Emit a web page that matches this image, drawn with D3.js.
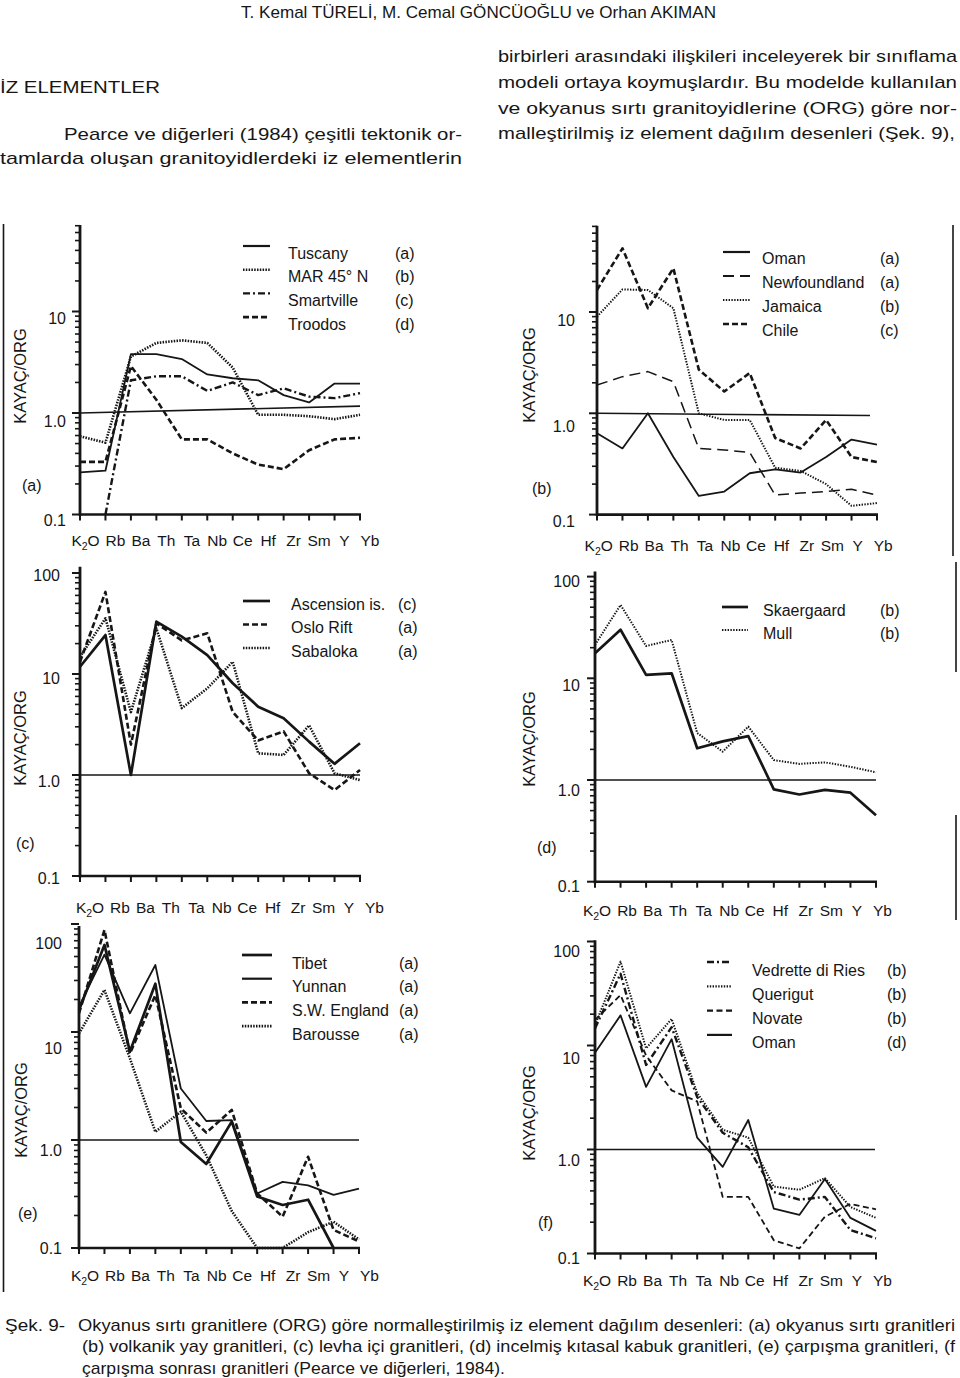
<!DOCTYPE html>
<html><head><meta charset="utf-8">
<script src="https://cdn.jsdelivr.net/npm/d3@7"></script>
<style>body{margin:0;background:#fff}svg{display:block}</style>
</head><body>
<script>
// ---------- DATA ----------
const elements = ["K2O","Rb","Ba","Th","Ta","Nb","Ce","Hf","Zr","Sm","Y","Yb"];
const yTickValues = [0.1, 1, 10, 100];
const yTickLabels = ["0.1", "1.0", "10", "100"];

// (a) okyanus sırtı granitleri
const namesA = ["Tuscany", "MAR 45° N", "Smartville", "Troodos"];
const codesA = ["(a)", "(b)", "(c)", "(d)"];
const tuscany    = [0.26, 0.27, 3.8, 3.8, 3.4, 2.4, 2.2, 2.1, 1.5, 1.27, 1.95, 1.95];
const mar45N     = [0.59, 0.51, 3.6, 4.9, 5.2, 4.9, 2.8, 0.96, 0.96, 0.93, 0.87, 0.96];
const smartville = [null, 0.1, 2.1, 2.3, 2.3, 1.65, 2.0, 1.5, 1.75, 1.45, 1.4, 1.57];
const troodos    = [0.33, 0.33, 2.9, 1.35, 0.55, 0.55, 0.4, 0.31, 0.28, 0.43, 0.55, 0.57];
const orgLineA   = [1.0, 1.17];

// (b) volkanik yay granitleri
const namesB = ["Oman", "Newfoundland", "Jamaica", "Chile"];
const codesB = ["(a)", "(a)", "(b)", "(c)"];
const omanB        = [0.635, 0.45, 1.0, 0.37, 0.153, 0.169, 0.256, 0.28, 0.26, 0.37, 0.55, 0.49];
const newfoundland = [1.9, 2.3, 2.58, 2.05, 0.45, 0.435, 0.41, 0.156, 0.163, 0.169, 0.178, 0.156];
const jamaica      = [9.0, 16.7, 16.5, 10.9, 1.0, 0.86, 0.86, 0.29, 0.27, 0.2, 0.122, 0.13];
const chile        = [16.5, 42.5, 10.9, 27, 2.7, 1.64, 2.5, 0.57, 0.45, 0.86, 0.37, 0.33];
const orgLineB     = [1.0, 0.95];

// (c) levha içi granitleri
const namesC = ["Ascension is.", "Oslo Rift", "Sabaloka"];
const codesC = ["(c)", "(a)", "(a)"];
const ascension = [11.8, 24.3, 1.0, 33, 23.4, 15.4, 8.1, 4.75, 3.64, 2.14, 1.29, 2.06];
const osloRift  = [13.2, 65, 2.0, 31.8, 21.5, 25.3, 4.2, 2.2, 2.7, 1.04, 0.71, 1.12];
const sabaloka  = [14.8, 35.6, 4.2, 28.3, 4.6, 7.2, 13.2, 1.64, 1.58, 3.1, 1.04, 0.89];
const orgLineC  = [1.0, 1.0];

// (d) incelmiş kıtasal kabuk granitleri
const namesD = ["Skaergaard", "Mull"];
const codesD = ["(b)", "(b)"];
const skaergaard = [17.6, 30, 10.8, 11.2, 2.05, 2.4, 2.7, 0.81, 0.72, 0.8, 0.75, 0.45];
const mull       = [21.3, 52.6, 20.8, 23.8, 2.9, 1.9, 3.35, 1.57, 1.44, 1.49, 1.35, 1.19];
const orgLineD   = [1.0, 1.0];

// (e) çarpışma granitleri
const namesE = ["Tibet", "Yunnan", "S.W. England", "Barousse"];
const codesE = ["(a)", "(a)", "(a)", "(a)"];
const tibet     = [16, 64, 6.6, 28, 0.96, 0.6, 1.48, 0.3, 0.25, 0.28, 0.1, null];
const yunnan    = [17.2, 52, 14.9, 41.7, 3.0, 1.5, 1.53, 0.32, 0.41, 0.38, 0.31, 0.355];
const swEngland = [14.9, 88, 6.3, 22, 1.96, 1.17, 1.9, 0.32, 0.195, 0.7, 0.147, 0.115];
const barousse  = [9.7, 24.5, 5.7, 1.19, 1.83, 0.72, 0.22, 0.1, 0.1, 0.14, 0.175, 0.12];
const orgLineE  = [1.0, 1.0];

// (f) çarpışma sonrası granitleri
const namesF = ["Vedrette di Ries", "Querigut", "Novate", "Oman"];
const codesF = ["(b)", "(b)", "(b)", "(d)"];
const vedrette = [14.6, 49, 6.5, 15, 3.2, 1.45, 1.05, 0.39, 0.33, 0.35, 0.168, 0.14];
const querigut = [15.7, 64, 9.4, 18, 3.5, 1.55, 1.3, 0.44, 0.41, 0.53, 0.28, 0.22];
const novate   = [17.6, 30.6, 8, 3.7, 2.9, 0.35, 0.35, 0.134, 0.112, 0.226, 0.3, 0.266];
const omanF    = [8.5, 19.5, 4.0, 11.5, 1.3, 0.68, 1.92, 0.27, 0.235, 0.52, 0.22, 0.165];
const orgLineF = [1.0, 1.0];

// ---------- STYLE / LAYOUT ----------
const INK = "#161616";
const FONT = "'Liberation Sans', Arial, Helvetica, sans-serif";
const STY = {
  solid:      {w: 1.8, d: null},
  thick:      {w: 2.7, d: null},
  dotted:     {w: 2.6, d: "1.5,1.3"},
  dottedThin: {w: 2.0, d: "1.4,1.4"},
  dashed:     {w: 2.6, d: "6,3"},
  dashedThin: {w: 1.8, d: "6,3.5"},
  longDash:   {w: 1.5, d: "11,6"},
  dashDot:    {w: 2.4, d: "7,3,2,3"}
};

const panels = [
  {x0: 80, x1: 360, y1: 413, dec: 101.5, top: 71, org: orgLineA, orgX1: 360,
   yLabRight: 66, yLabDy: [5.5, 8.7, 6.5], xLabDx: 10, xLabDy: 26, ylab: [20, 376], tag: ["(a)", 22, 485],
   legend: {lx0: 243, lx1: 270, tx: 288, cx: 395, y0: 253, dy: 23.7, ldy: -7},
   names: namesA, codes: codesA, data: [tuscany, mar45N, smartville, troodos],
   styles: ["solid", "dotted", "dashDot", "dashed"]},
  {x0: 597, x1: 877, y1: 413.3, dec: 101.3, top: 71, org: orgLineB, orgX1: 870,
   yLabRight: 575, yLabDy: [7, 13, 8], xLabDx: 6.2, xLabDy: 30.5, ylab: [528.5, 375], tag: ["(b)", 532, 488],
   legend: {lx0: 723, lx1: 750, tx: 762, cx: 880, y0: 258, dy: 24, ldy: -6},
   names: namesB, codes: codesB, data: [omanB, newfoundland, jamaica, chile],
   styles: ["solid", "longDash", "dottedThin", "dashed"]},
  {x0: 80, x1: 360, y1: 775, dec: 101, top: 115, org: orgLineC, orgX1: 360,
   yLabRight: 60, yLabDy: [2.3, 6.7, 4, 2], xLabDx: 14.5, xLabDy: 31, ylab: [20, 738], tag: ["(c)", 16, 843],
   legend: {lx0: 243, lx1: 270, tx: 291, cx: 398, y0: 604, dy: 23.5, ldy: -3},
   names: namesC, codes: codesC, data: [ascension, osloRift, sabaloka],
   styles: ["thick", "dashed", "dotted"]},
  {x0: 595, x1: 876, y1: 780, dec: 101.7, top: 112, org: orgLineD, orgX1: 876,
   yLabRight: 580, yLabDy: [5, 10, 6.7, 5], xLabDx: 6.5, xLabDy: 28.3, ylab: [529, 739], tag: ["(d)", 537, 847],
   legend: {lx0: 722, lx1: 748, tx: 763, cx: 880, y0: 610, dy: 23, ldy: -3},
   names: namesD, codes: codesD, data: [skaergaard, mull],
   styles: ["thick", "dottedThin"]},
  {x0: 79, x1: 359, y1: 1140, dec: 108, top: 96, org: orgLineE, orgX1: 359,
   yLabRight: 62, yLabDy: [0, 10, 16, 19], xLabDx: 10.5, xLabDy: 27, ylab: [21, 1110], tag: ["(e)", 18, 1213],
   legend: {lx0: 242, lx1: 272, tx: 292, cx: 399, y0: 963, dy: 23.7, ldy: -8},
   names: namesE, codes: codesE, data: [tibet, yunnan, swEngland, barousse],
   styles: ["thick", "solid", "dashed", "dotted"]},
  {x0: 595, x1: 876, y1: 1149.5, dec: 104, top: 103, org: orgLineF, orgX1: 875,
   yLabRight: 580, yLabDy: [4.5, 10.5, 12.5, 10], xLabDx: 6.5, xLabDy: 26.5, ylab: [529, 1113], tag: ["(f)", 538, 1222],
   legend: {lx0: 707, lx1: 732, tx: 752, cx: 887, y0: 970, dy: 24.3, ldy: -8},
   names: namesF, codes: codesF, data: [vedrette, querigut, novate, omanF],
   styles: ["dashDot", "dottedThin", "dashedThin", "solid"]}
];

// ---------- DRAW ----------
const svg = d3.select("body").append("svg").attr("width", 960).attr("height", 1378)
  .style("font-family", FONT);

function drawPanel(p) {
  const g = svg.append("g");
  const x = d3.scalePoint().domain(elements).range([p.x0, p.x1]);
  const y = d3.scaleLog().domain([0.1, 100]).range([p.y1 + p.dec, p.y1 - 2 * p.dec]);
  const yb = y(0.1);

  const minor = [];
  [0.1, 1, 10].forEach(dd => { for (let k = 2; k <= 9; k++) { const v = k * dd; if (v <= p.top) minor.push(v); } });
  g.selectAll(".ymin").data(minor).join("line")
    .attr("x1", p.x0 - 5).attr("x2", p.x0).attr("y1", d => y(d)).attr("y2", d => y(d))
    .attr("stroke", INK).attr("stroke-width", 1.6);
  const majors = yTickValues.filter(v => v <= p.top * 1.12);
  g.selectAll(".ymaj").data(majors).join("line")
    .attr("x1", p.x0 - 8).attr("x2", p.x0).attr("y1", d => y(d)).attr("y2", d => y(d))
    .attr("stroke", INK).attr("stroke-width", 2);
  g.selectAll(".ylab").data(majors).join("text")
    .attr("x", p.yLabRight).attr("y", (d, i) => y(d) + p.yLabDy[i] + 5.5)
    .attr("text-anchor", "end").attr("font-size", 16).attr("fill", INK)
    .text(d => yTickLabels[yTickValues.indexOf(d)]);

  g.append("line").attr("x1", p.x0).attr("x2", p.x0).attr("y1", yb + 1.5).attr("y2", y(p.top))
    .attr("stroke", INK).attr("stroke-width", 2.8);
  g.append("line").attr("x1", p.x0 - 1).attr("x2", p.x1 + 1).attr("y1", yb).attr("y2", yb)
    .attr("stroke", INK).attr("stroke-width", 2.6);
  g.selectAll(".xt").data(elements).join("line")
    .attr("x1", d => x(d)).attr("x2", d => x(d)).attr("y1", yb).attr("y2", yb + 6)
    .attr("stroke", INK).attr("stroke-width", 2);

  g.selectAll(".xl").data(elements).join("text")
    .attr("x", (d, i) => x(d) + p.xLabDx - (i === 0 ? 4.5 : 0)).attr("y", yb + p.xLabDy + 5.5)
    .attr("text-anchor", "middle").attr("font-size", 15.5).attr("fill", INK)
    .each(function (d) {
      const t = d3.select(this);
      if (d === "K2O") {
        t.append("tspan").text("K");
        t.append("tspan").text("2").attr("font-size", 10.5).attr("dy", 4);
        t.append("tspan").text("O").attr("dy", -4);
      } else t.text(d);
    });

  g.append("text").attr("transform", `translate(${p.ylab[0]},${p.ylab[1]}) rotate(-90)`)
    .attr("text-anchor", "middle").attr("dominant-baseline", "central")
    .attr("font-size", 16.5).attr("fill", INK).text("KAYAÇ/ORG");
  g.append("text").attr("x", p.tag[1]).attr("y", p.tag[2] + 5.5)
    .attr("font-size", 16).attr("fill", INK).text(p.tag[0]);

  g.append("line").attr("x1", p.x0).attr("x2", p.orgX1)
    .attr("y1", y(p.org[0])).attr("y2", y(p.org[1]))
    .attr("stroke", INK).attr("stroke-width", 1.6);

  const line = d3.line().defined(v => v != null)
    .x((v, i) => x(elements[i])).y(v => y(v));
  p.data.forEach((vals, si) => {
    const s = STY[p.styles[si]];
    g.append("path").attr("d", line(vals)).attr("fill", "none")
      .attr("stroke", INK).attr("stroke-width", s.w)
      .attr("stroke-dasharray", s.d).attr("stroke-linejoin", "round");
  });

  const L = p.legend;
  p.names.forEach((nm, i) => {
    const cy = L.y0 + i * L.dy;
    const s = STY[p.styles[i]];
    g.append("line").attr("x1", L.lx0).attr("x2", L.lx1).attr("y1", cy + L.ldy).attr("y2", cy + L.ldy)
      .attr("stroke", INK).attr("stroke-width", Math.max(s.w, 2.2)).attr("stroke-dasharray", s.d);
    g.append("text").attr("x", L.tx).attr("y", cy + 5.5).attr("font-size", 16).attr("fill", INK).text(nm);
    g.append("text").attr("x", L.cx).attr("y", cy + 5.5).attr("font-size", 16).attr("fill", INK).text(p.codes[i]);
  });
}
panels.forEach(drawPanel);

const borders = [[3.5, 224, 3.5, 1292], [953, 225, 953, 556], [956, 562, 956, 672], [956, 815, 956, 920]];
svg.selectAll(".bd").data(borders).join("line")
  .attr("x1", d => d[0]).attr("y1", d => d[1]).attr("x2", d => d[2]).attr("y2", d => d[3])
  .attr("stroke", INK).attr("stroke-width", 1.6);

// ---------- TEXT ----------
const textLines = [
  ["T. Kemal TÜRELİ, M. Cemal GÖNCÜOĞLU ve Orhan AKIMAN", 241, 18, 475],
  ["İZ ELEMENTLER", 0, 93, 160],
  ["Pearce ve diğerleri (1984) çeşitli tektonik or-", 64, 140, 398],
  ["tamlarda oluşan granitoyidlerdeki iz elementlerin", 0, 164, 462],
  ["birbirleri arasındaki ilişkileri inceleyerek bir sınıflama", 498, 62, 459],
  ["modeli ortaya koymuşlardır. Bu modelde kullanılan", 498, 88, 459],
  ["ve okyanus sırtı granitoyidlerine (ORG) göre nor-", 498, 114, 459],
  ["malleştirilmiş iz element dağılım desenleri (Şek. 9),", 498, 139, 457],
  ["Şek. 9-", 5, 1331, 60],
  ["Okyanus sırtı granitlere (ORG) göre normalleştirilmiş iz element dağılım desenleri: (a) okyanus sırtı granitleri", 78, 1331, 877],
  ["(b) volkanik yay granitleri, (c) levha içi granitleri, (d) incelmiş kıtasal kabuk granitleri, (e) çarpışma granitleri, (f", 82, 1352, 873],
  ["çarpışma sonrası granitleri (Pearce ve diğerleri, 1984).", 82, 1374, 423]
];
svg.selectAll(".tx").data(textLines).join("text")
  .attr("x", d => d[1]).attr("y", d => d[2])
  .attr("textLength", d => d[3]).attr("lengthAdjust", "spacingAndGlyphs")
  .attr("font-family", FONT).attr("font-size", 17).attr("fill", INK)
  .text(d => d[0]);
</script>
</body></html>
